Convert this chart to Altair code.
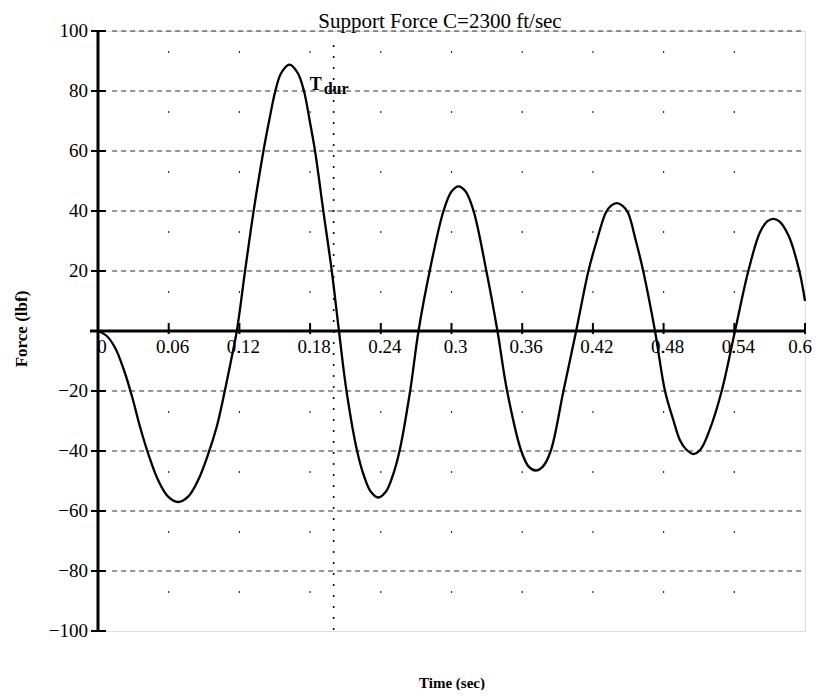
import altair as alt
import pandas as pd

# ---- data ----
time_s = [0.000, 0.007, 0.0144, 0.022, 0.029, 0.0357, 0.0427, 0.051, 0.0595, 0.068,
          0.0765, 0.085, 0.0937, 0.1007, 0.1075, 0.113, 0.1178, 0.1248, 0.132, 0.1404,
          0.1452, 0.1505, 0.1555, 0.1625, 0.1695, 0.1748, 0.1797, 0.1842, 0.1913, 0.1984,
          0.2045, 0.2109, 0.2199, 0.2259, 0.2314, 0.2379, 0.2444, 0.2499, 0.2559, 0.2649,
          0.272, 0.2815, 0.2932, 0.300, 0.3059, 0.312, 0.3186, 0.3296, 0.339, 0.3472,
          0.3592, 0.3655, 0.3715, 0.3775, 0.3842, 0.395, 0.4058, 0.4162, 0.4232, 0.431,
          0.4355, 0.4403, 0.445, 0.4497, 0.4565, 0.4627, 0.4727, 0.4812, 0.4885, 0.494,
          0.499, 0.5052, 0.5115, 0.5194, 0.5293, 0.5406, 0.5519, 0.5618, 0.5682, 0.5731,
          0.578, 0.586, 0.5952, 0.600]
force_lbf = [0, -1.5, -5.5, -13, -22, -32, -41, -49.7, -55.2, -57,
             -55.2, -49.7, -40.8, -32, -20.2, -9.7, 0, 20, 39.8, 60,
             70, 80, 86, 88.8, 86, 80, 70, 60, 39.8, 20,
             0, -20, -40, -48.5, -53.5, -55.5, -53.5, -48.5, -40, -20,
             0, 20, 40, 46.5, 48.2, 46.5, 40.2, 20, 0, -20,
             -40, -45.2, -46.5, -45.2, -40, -20, 0, 20, 30, 39.5,
             41.8, 42.6, 41.8, 39.5, 30, 20, 0, -20, -30, -36.5,
             -39.4, -41, -39.4, -32.6, -20, 0, 20, 32.9, 36.6, 37.4,
             36.6, 31.8, 20, 10]

x_ticks = [0, 0.06, 0.12, 0.18, 0.24, 0.3, 0.36, 0.42, 0.48, 0.54, 0.6]
x_tick_labels = ["0", "0.06", "0.12", "0.18", "0.24", "0.3", "0.36", "0.42", "0.48", "0.54", "0.6"]
y_ticks = [100, 80, 60, 40, 20, -20, -40, -60, -80, -100]
y_tick_labels = ["100", "80", "60", "40", "20", "\u221220", "\u221240", "\u221260", "\u221280", "\u2212100"]
grid_y = [100, 80, 60, 40, 20, -20, -40, -60, -80]
grid_x = [0.06, 0.12, 0.18, 0.24, 0.3, 0.36, 0.42, 0.48, 0.54]
t_dur = [0.2]
t_dur_label_force = [80]

title_text = "Support Force C=2300 ft/sec"
x_title = "Time (sec)"
y_title = "Force (lbf)"

W, H = 707, 600
FONT = "Liberation Serif"

xs = alt.Scale(domain=[0, 0.6], nice=False, zero=False)
ys = alt.Scale(domain=[-100, 100], nice=False, zero=False)

def X(field):
    return alt.X(field, type="quantitative", scale=xs, axis=None)

def Y(field):
    return alt.Y(field, type="quantitative", scale=ys, axis=None)

curve_df = pd.DataFrame({"t": time_s, "F": force_lbf})
gy_df = pd.DataFrame({"F": grid_y, "t": [0.012] * len(grid_y), "t2": [0.6] * len(grid_y)})
gx_df = pd.DataFrame({"t": grid_x})
xt_df = pd.DataFrame({"t": x_ticks, "lab": x_tick_labels})
yt_df = pd.DataFrame({"F": y_ticks, "lab": y_tick_labels})
tdur_df = pd.DataFrame({"t": t_dur, "F": t_dur_label_force})
zero_df = pd.DataFrame({"t": [0], "F": [0]})

grid_h = alt.Chart(gy_df).mark_rule(color="#2a2a2a", strokeWidth=1, strokeDash=[5, 4]).encode(
    x=X("t"), x2="t2", y=Y("F"))

grid_v = alt.Chart(gx_df).mark_rule(color="#333333", strokeWidth=1.2, strokeDash=[2, 58],
                                    strokeDashOffset=-20).encode(
    x=X("t"), y=alt.value(0), y2=alt.value(H))

tdur_line = alt.Chart(tdur_df).mark_rule(color="#111111", strokeWidth=1.6, strokeDash=[2, 9]).encode(
    x=X("t"), y=alt.value(14), y2=alt.value(H))

x_axis = alt.Chart(zero_df).mark_rule(color="black", strokeWidth=3).encode(
    y=Y("F"), x=alt.value(-8), x2=alt.value(W + 1))
y_axis = alt.Chart(zero_df).mark_rule(color="black", strokeWidth=3).encode(
    x=X("t"), y=alt.value(0), y2=alt.value(H))

y_tick_marks = alt.Chart(yt_df).mark_rule(color="black", strokeWidth=2).encode(
    y=Y("F"), x=alt.value(-7), x2=alt.value(8))
x_tick_marks = alt.Chart(xt_df[xt_df["t"] > 0]).mark_rule(color="black", strokeWidth=2).encode(
    x=X("t"), y=alt.value(H / 2 - 8), y2=alt.value(H / 2 + 3))

x_labels = alt.Chart(xt_df.iloc[:-1]).mark_text(font=FONT, fontSize=19, align="center",
                                                baseline="alphabetic", dx=4, color="black").encode(
    x=X("t"), y=alt.value(H / 2 + 22), text="lab:N")
x_label_last = alt.Chart(xt_df.iloc[-1:]).mark_text(font=FONT, fontSize=19, align="right",
                                                    baseline="alphabetic", dx=7, color="black").encode(
    x=X("t"), y=alt.value(H / 2 + 22), text="lab:N")
y_labels = alt.Chart(yt_df).mark_text(font=FONT, fontSize=19, align="right", baseline="middle",
                                      color="black").encode(
    y=Y("F"), x=alt.value(-10), text="lab:N")

curve = alt.Chart(curve_df).mark_line(color="black", strokeWidth=2.3, interpolate="catmull-rom").encode(
    x=X("t"), y=Y("F"))

t_label = alt.Chart(tdur_df).mark_text(text="T", font=FONT, fontSize=18, fontWeight="bold",
                                       align="left", baseline="alphabetic", dx=-24, dy=-1,
                                       color="black").encode(x=X("t"), y=Y("F"))
dur_label = alt.Chart(tdur_df).mark_text(text="dur", font=FONT, fontSize=16, fontWeight="bold",
                                         align="left", baseline="alphabetic", dx=-10, dy=3,
                                         color="black").encode(x=X("t"), y=Y("F"))

title = alt.Chart(pd.DataFrame({"s": [title_text]})).mark_text(
    font=FONT, fontSize=21, align="center", baseline="alphabetic", color="black").encode(
    x=alt.value(342), y=alt.value(-3), text="s:N")
xt = alt.Chart(pd.DataFrame({"s": [x_title]})).mark_text(
    font=FONT, fontSize=15, fontWeight="bold", align="center", baseline="alphabetic",
    color="black").encode(x=alt.value(354), y=alt.value(657), text="s:N")
yt = alt.Chart(pd.DataFrame({"s": [y_title]})).mark_text(
    font=FONT, fontSize=17, fontWeight="bold", align="center", baseline="middle", angle=270,
    color="black").encode(x=alt.value(-76), y=alt.value(298), text="s:N")

chart = alt.layer(
    grid_h, grid_v, tdur_line, x_axis, y_axis, y_tick_marks, x_tick_marks,
    curve, x_labels, x_label_last, y_labels, t_label, dur_label, title, xt, yt
).properties(
    width=W, height=H,
    autosize=alt.AutoSizeParams(type="none"),
    padding={"left": 90, "top": 23, "right": 9, "bottom": 59},
).configure_view(stroke=None).configure(background="white")

chart.save("out.html", embed_options={"renderer": "svg", "actions": False})
